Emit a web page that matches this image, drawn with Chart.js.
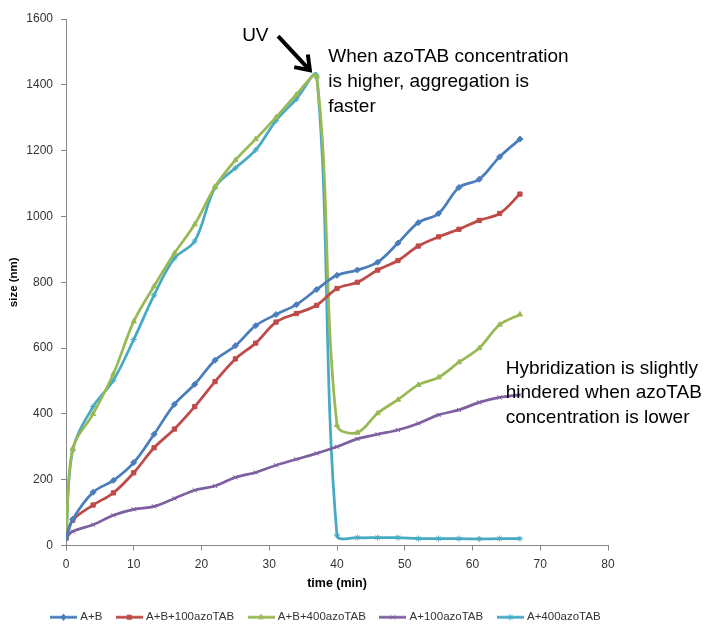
<!DOCTYPE html>
<html>
<head>
<meta charset="utf-8">
<script src="https://cdn.jsdelivr.net/npm/chart.js@4/dist/chart.umd.min.js"></script>
<style>
  html, body { margin: 0; padding: 0; background: #ffffff; }
  #c { display: block; }
</style>
</head>
<body>
<canvas id="c" width="710" height="624"></canvas>
<script>
// Sampling times (min)
const times = [0, 1, 4, 7, 10, 13, 16, 19, 22, 25, 28, 31, 34, 37, 40, 43, 46, 49, 52, 55, 58, 61, 64, 67];

// Particle size (nm) per sample
const sizeAB        = [23, 80, 162, 198, 252, 338, 429, 490, 563, 607, 668, 702, 732, 778, 821, 837, 861, 919, 981, 1009, 1088, 1113, 1181, 1235];
const sizeAB100     = [22, 77, 123, 160, 221, 297, 354, 422, 498, 567, 615, 679, 705, 730, 781, 800, 837, 866, 910, 938, 961, 988, 1009, 1068];
const sizeAB400     = [24, 295, 400, 522, 681, 788, 888, 976, 1090, 1171, 1235, 1301, 1370, 1425, 366, 343, 402, 443, 488, 511, 557, 600, 671, 702];
const sizeA100      = [24, 43, 63, 92, 110, 119, 143, 168, 181, 207, 222, 244, 262, 280, 300, 324, 338, 351, 371, 397, 412, 435, 450, 458];
const sizeA400      = [24, 290, 422, 502, 626, 761, 873, 925, 1088, 1147, 1202, 1291, 1357, 1428, 31, 24, 24, 24, 21, 21, 21, 20, 21, 21];

const seriesNames = ['A+B', 'A+B+100azoTAB', 'A+B+400azoTAB', 'A+100azoTAB', 'A+400azoTAB'];

// Axis tick values
const timeTicks = [0, 10, 20, 30, 40, 50, 60, 70, 80];
const sizeTicks = [0, 200, 400, 600, 800, 1000, 1200, 1400, 1600];

const FONT = '"Liberation Sans", Arial, sans-serif';
const AXIS_GREY = '#868686';

const styles = [
  { color: '#4A7EBB', marker: 'rectRot' },
  { color: '#BE4B48', marker: 'rect' },
  { color: '#98B954', marker: 'triangle' },
  { color: '#7D60A0', marker: 'crossRot' },
  { color: '#46AAC5', marker: 'star' }
];
const seriesValues = [sizeAB, sizeAB100, sizeAB400, sizeA100, sizeA400];

const datasets = seriesValues.map((vals, i) => ({
  label: seriesNames[i],
  data: times.map((t, k) => ({ x: t, y: vals[k] })),
  borderColor: styles[i].color,
  backgroundColor: styles[i].color,
  borderWidth: 2.75,
  tension: 0.35,
  pointStyle: styles[i].marker,
  pointRadius: 3,
  pointBorderWidth: 1,
  pointBackgroundColor: styles[i].color,
  pointBorderColor: styles[i].color,
  fill: false
}));

// Small line-with-marker swatch for each legend entry
function legendSwatch(color, marker) {
  const cv = document.createElement('canvas');
  cv.width = 27; cv.height = 9;
  const g = cv.getContext('2d');
  g.strokeStyle = color;
  g.fillStyle = color;
  g.lineWidth = 2.75;
  g.beginPath(); g.moveTo(0, 4.5); g.lineTo(27, 4.5); g.stroke();
  g.lineWidth = 1;
  Chart.helpers.drawPoint(g, { pointStyle: marker, radius: 3, rotation: 0, borderWidth: 1 }, 13.5, 4.5);
  return cv;
}
const swatches = styles.map(s => legendSwatch(s.color, s.marker));

// Text notes and the UV arrow, placed in data coordinates
const notesPlugin = {
  id: 'notes',
  afterDatasetsDraw(chart) {
    const { ctx, scales: { x, y } } = chart;
    ctx.save();
    ctx.fillStyle = '#000000';
    ctx.font = '19px ' + FONT;
    ctx.textBaseline = 'middle';
    ctx.textAlign = 'left';
    const put = (tx, ty, lines, step) => {
      lines.forEach((s, i) => ctx.fillText(s, x.getPixelForValue(tx), y.getPixelForValue(ty) + i * step));
    };
    put(26.0, 1550, ['UV'], 0);
    put(38.7, 1485, ['When azoTAB concentration', 'is higher, aggregation is', 'faster'], 25);
    put(64.9, 538, ['Hybridization is slightly', 'hindered when azoTAB', 'concentration is lower'], 24.5);

    // arrow
    const x0 = x.getPixelForValue(31.3), y0 = y.getPixelForValue(1548);
    const x1 = x.getPixelForValue(36.0), y1 = y.getPixelForValue(1444);
    const ang = Math.atan2(y1 - y0, x1 - x0);
    ctx.strokeStyle = '#000000';
    ctx.lineWidth = 4;
    ctx.lineCap = 'butt';
    ctx.lineJoin = 'miter';
    ctx.beginPath();
    ctx.moveTo(x0, y0);
    ctx.lineTo(x1 - 2 * Math.cos(ang), y1 - 2 * Math.sin(ang));
    ctx.stroke();
    const h = 16, spread = 0.62;
    ctx.beginPath();
    ctx.moveTo(x1 - h * Math.cos(ang - spread), y1 - h * Math.sin(ang - spread));
    ctx.lineTo(x1, y1);
    ctx.lineTo(x1 - h * Math.cos(ang + spread), y1 - h * Math.sin(ang + spread));
    ctx.stroke();
    ctx.restore();
  }
};

// Start the legend row under the plot
const legendPlace = {
  id: 'legendPlace',
  afterLayout(chart) {
    const lg = chart.legend;
    if (!lg) return;
    const w = lg.right - lg.left;
    lg.left = 36.5;
    lg.right = lg.left + w;
  }
};

Chart.defaults.font.family = FONT;
Chart.defaults.color = '#333333';

new Chart(document.getElementById('c'), {
  type: 'line',
  data: { datasets },
  plugins: [notesPlugin, legendPlace],
  options: {
    responsive: false,
    devicePixelRatio: 1,
    animation: false,
    events: [],
    layout: { padding: { top: 19, right: 102, bottom: -9, left: 0 } },
    scales: {
      x: {
        type: 'linear',
        min: 0,
        max: 80,
        afterBuildTicks: s => { s.ticks = timeTicks.map(v => ({ value: v })); },
        afterFit: s => { s.height = 50; },
        grid: { drawOnChartArea: false, drawTicks: true, tickLength: 5, color: AXIS_GREY, lineWidth: 1 },
        border: { color: AXIS_GREY, width: 1 },
        ticks: { padding: 7, maxRotation: 0, autoSkip: false, color: '#333333', font: { size: 12 }, callback: v => String(v) },
        title: { display: true, text: 'time (min)', color: '#000000', font: { size: 12.5, weight: 'bold' }, padding: { top: 0, bottom: 4 } }
      },
      y: {
        type: 'linear',
        min: 0,
        max: 1600,
        afterBuildTicks: s => { s.ticks = sizeTicks.map(v => ({ value: v })); },
        afterFit: s => { s.width = 66; },
        grid: { drawOnChartArea: false, drawTicks: true, tickLength: 5, color: AXIS_GREY, lineWidth: 1 },
        border: { color: AXIS_GREY, width: 1 },
        ticks: { padding: 8, autoSkip: false, color: '#333333', font: { size: 12 }, callback: v => String(v) },
        title: { display: true, text: 'size (nm)', color: '#000000', font: { size: 11.5, weight: 'bold' }, padding: { top: 7, bottom: 0 } }
      }
    },
    plugins: {
      tooltip: { enabled: false },
      legend: {
        position: 'bottom',
        align: 'start',
        labels: {
          usePointStyle: true,
          pointStyleWidth: 22,
          padding: 16,
          color: '#333333',
          font: { size: 11.5 },
          generateLabels(chart) {
            const items = Chart.defaults.plugins.legend.labels.generateLabels(chart);
            items.forEach((it, i) => { it.pointStyle = swatches[i]; it.rotation = 0; });
            return items;
          }
        }
      }
    }
  }
});
</script>
</body>
</html>
